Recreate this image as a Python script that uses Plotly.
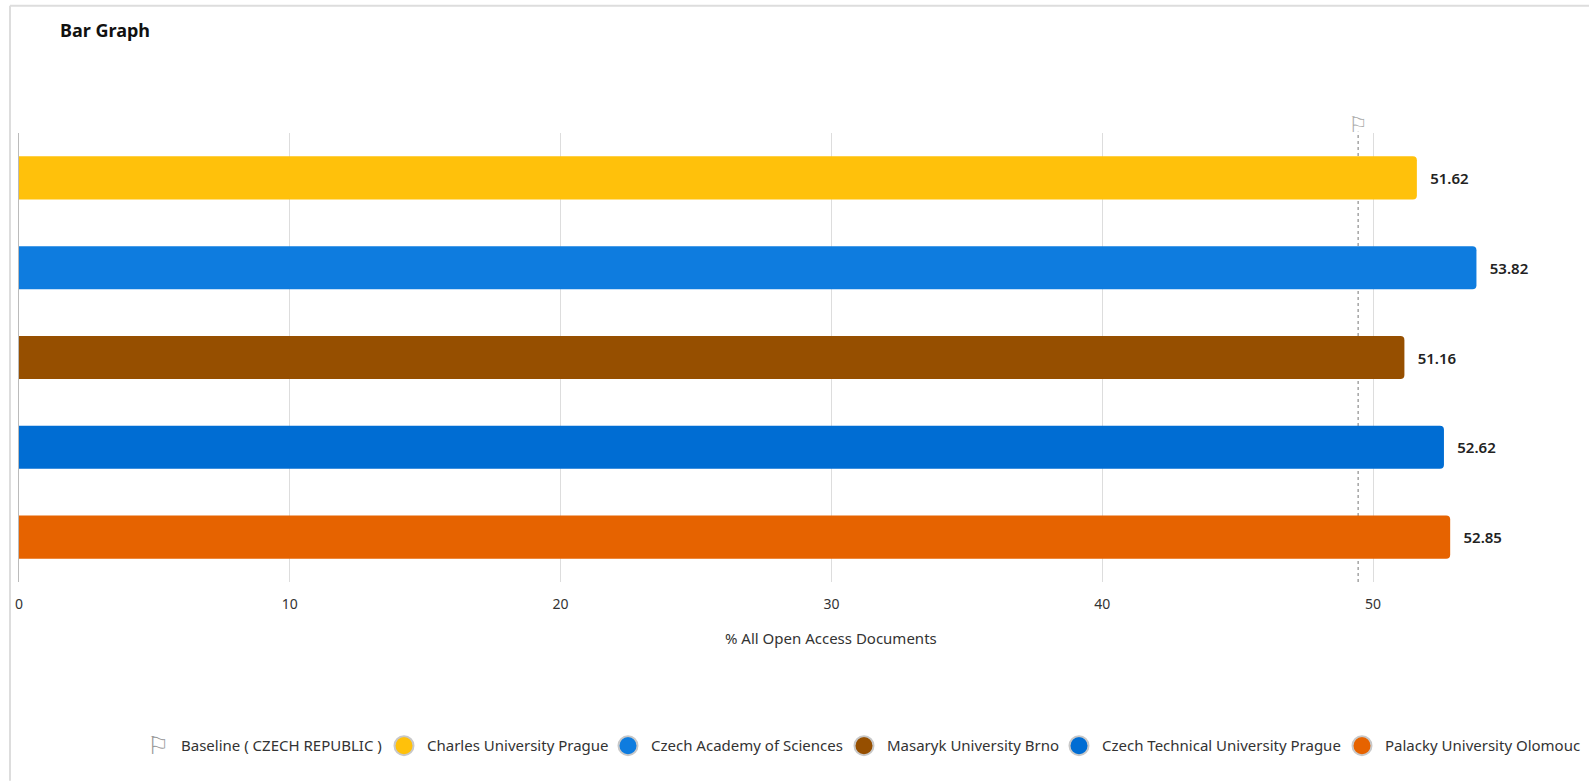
import plotly.graph_objects as go

universities = ["Charles University Prague", "Czech Academy of Sciences", "Masaryk University Brno",
                "Czech Technical University Prague", "Palacky University Olomouc"]
values = [51.62, 53.82, 51.16, 52.62, 52.85]
colors = ["#FFC10B", "#0E7CDF", "#964F00", "#006DD3", "#E66300"]
baseline_value = 49.45
baseline_name = "Baseline ( CZECH REPUBLIC )"
tick_values = [0, 10, 20, 30, 40, 50]
axis_title = "% All Open Access Documents"
chart_title = "Bar Graph"

W, H = 1589, 781
L, R, T, B = 19, 1560, 133.3, 582.3
UNIT = 27.08
FONT = "Noto Sans"
LEGEND_Y = 746
legend_marker_px = [404, 628, 864, 1079, 1362]
legend_baseline_px = 158
px = lambda x: (x - L) / (R - L)
py = lambda y: (B - y) / (B - T)

fig = go.Figure()
fig.add_trace(go.Bar(
    y=universities, x=values, orientation="h", width=0.48,
    marker=dict(color=colors, cornerradius=4, line=dict(width=0)),
    text=["\u00a0\u00a0\u2009%.2f" % v for v in values], textposition="outside", cliponaxis=False,
    textfont=dict(family=FONT, size=15, color="#222", weight=600),
    showlegend=False, hoverinfo="x+y",
))

legend_font = dict(family=FONT, size=15, color="#333")
legends = {}


def legend_at(key, marker_x):
    legends[key] = dict(orientation="h", x=px(marker_x - 23), xanchor="left", y=py(LEGEND_Y), yanchor="middle",
                        itemsizing="trace", itemwidth=36, font=legend_font, bgcolor="rgba(0,0,0,0)",
                        itemclick=False, itemdoubleclick=False)


fig.add_trace(go.Scatter(x=[None], y=[None], mode="markers", name=baseline_name, legend="legend",
                         marker=dict(size=16, color="rgba(0,0,0,0)", line=dict(width=0))))
legend_at("legend", legend_baseline_px)

R_PX = 9.5
for i, (n, c, mx) in enumerate(zip(universities, colors, legend_marker_px)):
    key = "legend%d" % (i + 2)
    fig.add_trace(go.Scatter(x=[None], y=[None], mode="markers", name=n, legend=key,
                             marker=dict(size=16, color=c, line=dict(width=0))))
    legend_at(key, mx)
    # Plotly caps legend markers at 16px: the ringed disc underneath gives the full size
    fig.add_shape(type="circle", xref="paper", yref="paper",
                  x0=px(mx - R_PX), x1=px(mx + R_PX), y0=py(LEGEND_Y + R_PX), y1=py(LEGEND_Y - R_PX),
                  fillcolor=c, line=dict(color="#C8C8C8", width=2))

fig.add_shape(type="line", xref="x", yref="paper", x0=baseline_value, x1=baseline_value,
              y0=0, y1=py(132), layer="below", line=dict(color="#777", width=1, dash="3px,3px"))
# card frame
fig.add_shape(type="line", xref="paper", yref="paper", x0=px(10), x1=px(W), y0=py(6), y1=py(6),
              line=dict(color="#DDDDDD", width=2))
fig.add_shape(type="line", xref="paper", yref="paper", x0=px(10), x1=px(10), y0=py(6), y1=py(H),
              line=dict(color="#DDDDDD", width=2))

ann = [
    dict(text="⚐", xref="x", yref="paper", x=baseline_value, y=py(125), xanchor="center", yanchor="middle",
         showarrow=False, font=dict(family="DejaVu Sans", size=22, color="#AAAAAA")),
    dict(text=axis_title, xref="paper", yref="paper", x=px(831), y=py(638), xanchor="center", yanchor="middle",
         showarrow=False, font=dict(family=FONT, size=15, color="#333")),
    dict(text=chart_title, xref="paper", yref="paper", x=px(58), y=py(30), xanchor="left", yanchor="middle",
         showarrow=False, font=dict(family=FONT, size=18, color="#111", weight=700)),
    dict(text="⚐", xref="paper", yref="paper", x=px(158), y=py(746), xanchor="center", yanchor="middle",
         showarrow=False, font=dict(family="DejaVu Sans", size=25, color="#999999")),
]

fig.update_layout(
    width=W, height=H,
    margin=dict(l=L, r=W - R, t=T, b=H - B, autoexpand=False),
    paper_bgcolor="white", plot_bgcolor="white",
    font=dict(family=FONT, size=14, color="#333"),
    bargap=0.52,
    annotations=ann,
    xaxis=dict(range=[0, (R - L) / UNIT], tickvals=tick_values, showgrid=True, gridcolor="#DDDDDD", gridwidth=1,
               zeroline=False, showline=False, ticks="", ticklabelstandoff=12,
               tickfont=dict(family=FONT, size=14, color="#333")),
    yaxis=dict(type="category", categoryorder="array", categoryarray=universities, range=[4.5, -0.5],
               showticklabels=False, showgrid=False, zeroline=False, showline=True, linecolor="#BBBBBB", linewidth=1, ticks=""),
    **legends,
)

fig.write_html("out.html", config=dict(displayModeBar=False), post_script="document.body.style.margin='0';")
